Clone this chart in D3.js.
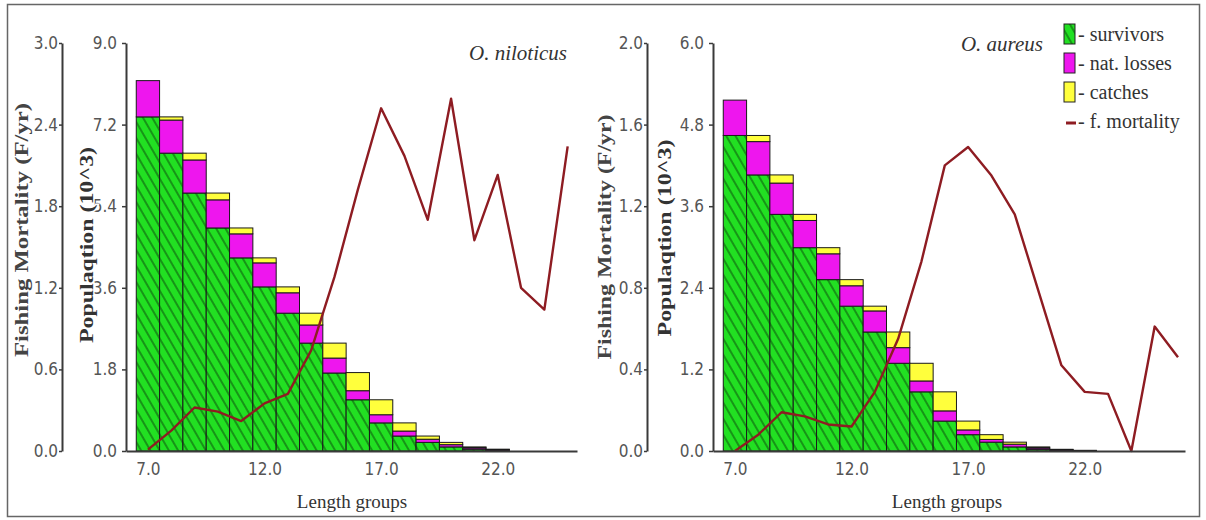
<!DOCTYPE html>
<html>
<head>
<meta charset="utf-8">
<script src="https://cdn.jsdelivr.net/npm/d3@7"></script>
<style>
  body { margin: 0; background: #fff; }
</style>
</head>
<body>
<script>
// ---- data ----
// length groups of the bars
var lengthsNil = [7, 8, 9, 10, 11, 12, 13, 14, 15, 16, 17, 18, 19, 20, 21, 22];
var survNil  = [7.37, 6.57, 5.69, 4.92, 4.26, 3.62, 3.04, 2.38, 1.72, 1.13, 0.62, 0.33, 0.19, 0.09, 0.04, 0.015];
var natNil   = [0.80, 0.73, 0.73, 0.62, 0.53, 0.53, 0.45, 0.40, 0.33, 0.20, 0.18, 0.11, 0.07, 0.05, 0.03, 0.015];
var catchNil = [0, 0.07, 0.15, 0.15, 0.13, 0.11, 0.13, 0.26, 0.33, 0.40, 0.33, 0.18, 0.07, 0.05, 0.02, 0.01];
// fishing mortality line
var fLenNil = [7, 8, 9, 10, 11, 12, 13, 14, 15, 16, 17, 18, 19, 20, 21, 22, 23, 24, 25];
var fNil    = [0.01, 0.15, 0.32, 0.29, 0.22, 0.35, 0.42, 0.74, 1.28, 1.92, 2.52, 2.17, 1.70, 2.59, 1.55, 2.03, 1.20, 1.04, 2.24];

var lengthsAur = [7, 8, 9, 10, 11, 12, 13, 14, 15, 16, 17, 18, 19, 20, 21, 22];
var survAur  = [4.64, 4.06, 3.48, 2.99, 2.52, 2.13, 1.75, 1.29, 0.87, 0.44, 0.24, 0.13, 0.06, 0.025, 0.01, 0.004];
var natAur   = [0.52, 0.49, 0.46, 0.40, 0.38, 0.30, 0.31, 0.23, 0.16, 0.15, 0.07, 0.04, 0.04, 0.02, 0.01, 0.003];
var catchAur = [0, 0.09, 0.12, 0.09, 0.09, 0.09, 0.07, 0.23, 0.26, 0.28, 0.13, 0.07, 0.03, 0.015, 0.005, 0.003];
var fLenAur = [7, 8, 9, 10, 11, 12, 13, 14, 15, 16, 17, 18, 19, 20, 21, 22, 23, 24, 25, 26];
var fAur    = [0.0, 0.08, 0.19, 0.17, 0.13, 0.12, 0.29, 0.55, 0.93, 1.40, 1.49, 1.35, 1.16, 0.79, 0.42, 0.29, 0.28, 0.0, 0.61, 0.46];

// tick labels
var popTicksNil = [0, 1.8, 3.6, 5.4, 7.2, 9.0];
var fTicksNil   = [0, 0.6, 1.2, 1.8, 2.4, 3.0];
var popTicksAur = [0, 1.2, 2.4, 3.6, 4.8, 6.0];
var fTicksAur   = [0, 0.4, 0.8, 1.2, 1.6, 2.0];
var xTicks = [7, 12, 17, 22];

var legendNames = ["- survivors", "- nat. losses", "- catches", "- f. mortality"];

// ---- style ----
var green = "#22e022", magenta = "#ee16ee", yellow = "#ffff3c", lineCol = "#8e1c22";
var tickFont = "'DejaVu Sans Condensed', 'Liberation Sans Narrow', sans-serif";
var serif = "'Liberation Serif', 'Times New Roman', serif";
var yTop = 43, yBase = 451;

var svg = d3.select("body").append("svg")
  .attr("width", 1206)
  .attr("height", 520);

// frame round the figure
svg.append("rect")
  .attr("x", 7.5).attr("y", 4.5)
  .attr("width", 1192).attr("height", 512)
  .attr("fill", "none")
  .attr("stroke", "#666")
  .attr("stroke-width", 1.5);

// hatch for survivors
var pat = svg.append("defs").append("pattern")
  .attr("id", "hatch")
  .attr("patternUnits", "userSpaceOnUse")
  .attr("width", 8).attr("height", 8)
  .attr("patternTransform", "rotate(-30)");
pat.append("rect").attr("width", 8).attr("height", 8).attr("fill", green);
pat.append("line")
  .attr("x1", 1).attr("y1", 0).attr("x2", 1).attr("y2", 8)
  .attr("stroke", "#0d560d").attr("stroke-width", 1.1);

var fills = {survivors: "url(#hatch)", natLosses: magenta, catches: yellow};

function drawPanel(p) {
  var x = d3.scaleLinear().domain(p.xDomain).range([p.popX, p.xEnd]);
  var yPop = d3.scaleLinear().domain([0, p.popMax]).range([yBase, yTop]);
  var yF = d3.scaleLinear().domain([0, p.fMax]).range([yBase, yTop]);

  var rows = p.lengths.map(function(L, i) {
    return {L: L, survivors: p.surv[i], natLosses: p.nat[i], catches: p.catches[i]};
  });
  var stack = d3.stack().keys(["survivors", "natLosses", "catches"])(rows);

  var g = svg.append("g");
  stack.forEach(function(layer) {
    g.selectAll(null)
      .data(layer.filter(function(d) { return d[1] > d[0]; }))
      .enter()
      .append("rect")
      .attr("x", function(d) { return x(d.data.L - 0.5); })
      .attr("width", function(d) { return x(d.data.L + 0.5) - x(d.data.L - 0.5); })
      .attr("y", function(d) { return yPop(d[1]); })
      .attr("height", function(d) { return yPop(d[0]) - yPop(d[1]); })
      .attr("fill", fills[layer.key])
      .attr("stroke", "#1a1a1a")
      .attr("stroke-width", 1);
  });

  // fishing mortality
  var line = d3.line()
    .x(function(d) { return x(d[0]); })
    .y(function(d) { return yF(d[1]); });
  g.append("path")
    .datum(p.fLen.map(function(L, i) { return [L, p.f[i]]; }))
    .attr("d", line)
    .attr("fill", "none")
    .attr("stroke", lineCol)
    .attr("stroke-width", 2.4)
    .attr("stroke-linejoin", "round");

  // population axis
  var popAxis = svg.append("g")
    .attr("transform", "translate(" + p.popX + ",0)")
    .call(d3.axisLeft(yPop).tickValues(p.popTicks).tickFormat(d3.format(".1f"))
      .tickSizeInner(4).tickSizeOuter(0).tickPadding(5));
  // fishing mortality axis
  var fAxis = svg.append("g")
    .attr("transform", "translate(" + p.fX + ",0)")
    .call(d3.axisLeft(yF).tickValues(p.fTicks).tickFormat(d3.format(".1f"))
      .tickSizeInner(3).tickSizeOuter(0).tickPadding(1));
  // length axis
  var xAxis = svg.append("g")
    .attr("transform", "translate(0," + yBase + ")")
    .call(d3.axisBottom(x).tickValues(xTicks).tickFormat(d3.format(".1f"))
      .tickSize(0).tickPadding(12));

  [popAxis, fAxis, xAxis].forEach(function(a) {
    a.select(".domain").attr("stroke", "#3a3a3a").attr("stroke-width", 2);
    a.selectAll(".tick line").attr("stroke", "#3a3a3a").attr("stroke-width", 1.5);
    a.selectAll(".tick text")
      .attr("fill", "#555")
      .style("font-family", tickFont)
      .style("font-size", "17px");
  });

  // axis titles
  svg.append("text")
    .attr("transform", "translate(" + p.fLabelX + "," + p.fLabelY + ") rotate(-90)")
    .attr("text-anchor", "middle")
    .attr("dy", "0.35em")
    .attr("textLength", p.fLabelLen)
    .attr("lengthAdjust", "spacingAndGlyphs")
    .style("font-family", serif).style("font-weight", "bold").style("font-size", "19px")
    .attr("fill", "#444")
    .text("Fishing Mortality (F/yr)");
  svg.append("text")
    .attr("transform", "translate(" + p.popLabelX + "," + p.popLabelY + ") rotate(-90)")
    .attr("text-anchor", "middle")
    .attr("dy", "0.35em")
    .attr("textLength", p.popLabelLen)
    .attr("lengthAdjust", "spacingAndGlyphs")
    .style("font-family", serif).style("font-weight", "bold").style("font-size", "19px")
    .attr("fill", "#333")
    .attr("stroke", "#fff").attr("stroke-width", 3).attr("paint-order", "stroke")
    .text("Populaqtion (10^3)");
  svg.append("text")
    .attr("x", p.xLabelX).attr("y", 508)
    .attr("text-anchor", "middle")
    .style("font-family", serif).style("font-size", "19px")
    .attr("fill", "#333")
    .text("Length groups");

  // species
  svg.append("text")
    .attr("x", p.titleX).attr("y", p.titleY)
    .attr("text-anchor", "end")
    .style("font-family", serif).style("font-style", "italic").style("font-size", "21px")
    .attr("fill", "#333")
    .text(p.title);
}

drawPanel({
  lengths: lengthsNil, surv: survNil, nat: natNil, catches: catchNil,
  fLen: fLenNil, f: fNil,
  popTicks: popTicksNil, fTicks: fTicksNil, popMax: 9, fMax: 3,
  xDomain: [6.06, 25.4], popX: 126, xEnd: 577, fX: 62,
  fLabelX: 21, fLabelY: 230, fLabelLen: 254,
  popLabelX: 86, popLabelY: 245, popLabelLen: 196,
  xLabelX: 352, title: "O. niloticus", titleX: 567, titleY: 60
});

drawPanel({
  lengths: lengthsAur, surv: survAur, nat: natAur, catches: catchAur,
  fLen: fLenAur, f: fAur,
  popTicks: popTicksAur, fTicks: fTicksAur, popMax: 6, fMax: 2,
  xDomain: [6.06, 26.3], popX: 713, xEnd: 1185, fX: 647,
  fLabelX: 604, fLabelY: 237, fLabelLen: 245,
  popLabelX: 664, popLabelY: 238, popLabelLen: 197,
  xLabelX: 947, title: "O. aureus", titleX: 1043, titleY: 51
});

// legend (right panel)
var legend = svg.append("g").attr("transform", "translate(1064,0)");
var legendY = [34, 63, 92, 121];
[ "url(#hatch)", magenta, yellow ].forEach(function(c, i) {
  legend.append("rect")
    .attr("x", 0).attr("y", legendY[i] - 10)
    .attr("width", 11).attr("height", 20)
    .attr("fill", c)
    .attr("stroke", "#222").attr("stroke-width", 1);
});
legend.append("line")
  .attr("x1", 2).attr("x2", 12)
  .attr("y1", legendY[3] + 2).attr("y2", legendY[3] + 2)
  .attr("stroke", lineCol).attr("stroke-width", 3);
legend.selectAll(null)
  .data(legendNames)
  .enter()
  .append("text")
  .attr("x", 14)
  .attr("y", function(d, i) { return legendY[i]; })
  .attr("dy", "0.35em")
  .style("font-family", serif).style("font-size", "20px")
  .attr("fill", "#333")
  .text(function(d) { return d; });
</script>
</body>
</html>
